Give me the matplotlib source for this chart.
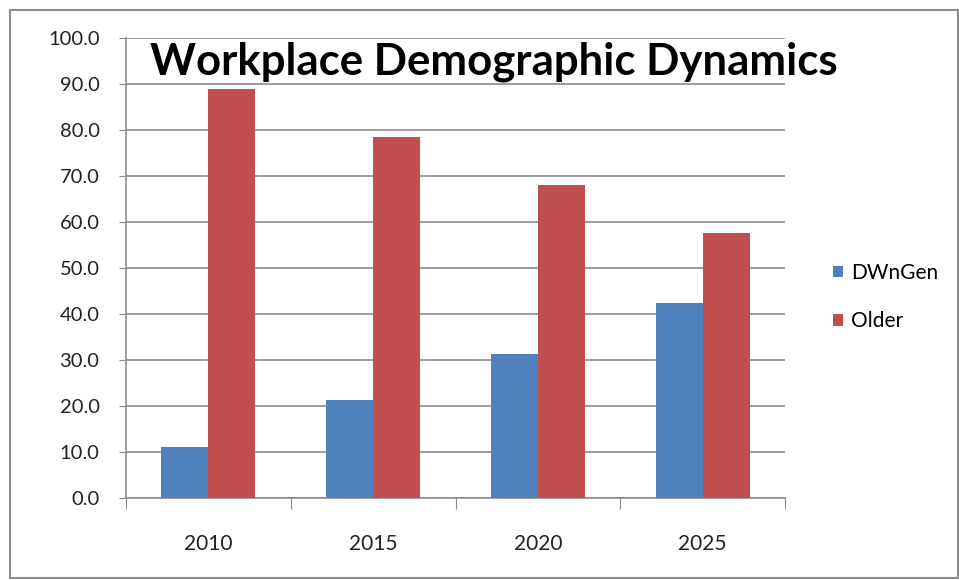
import numpy as np
import matplotlib.pyplot as plt
from matplotlib.patches import Rectangle

# data
years = ['2010', '2015', '2020', '2025']
dwngen = [11.0, 21.3, 31.4, 42.3]
older = [88.9, 78.5, 68.0, 57.6]

blue = '#4F81BD'
red = '#C0504D'
grid_col = '#8C8C8C'

plt.rcParams['font.family'] = ['Lato', 'DejaVu Sans']

fig = plt.figure(figsize=(9.59, 5.8), dpi=100)
ax = fig.add_axes([126 / 959, 1 - 498 / 580, (785 - 126) / 959, (498 - 38) / 580])

x = np.arange(len(years))
w = 0.285
ax.bar(x - w / 2, dwngen, width=w, color=blue, label='DWnGen', zorder=3)
ax.bar(x + w / 2, older, width=w, color=red, label='Older', zorder=3)

ax.set_ylim(0, 100)
ax.set_xlim(-0.5, len(years) - 0.5)
ax.set_yticks(np.arange(0, 101, 10))
ax.set_yticklabels(['%.1f' % v for v in np.arange(0, 101, 10)], fontsize=14.5, color='#222222')
ax.yaxis.grid(True, color=grid_col, linewidth=1.2, zorder=0)
ax.tick_params(axis='y', length=5, color=grid_col, pad=14)

# category separators as major ticks, labels on minor ticks
ax.set_xticks(np.arange(-0.5, len(years), 1.0))
ax.set_xticklabels([])
ax.set_xticks(x, minor=True)
ax.set_xticklabels(years, minor=True, fontsize=15, color='#222222')
ax.tick_params(axis='x', which='major', length=8, color=grid_col)
ax.tick_params(axis='x', which='minor', length=0, pad=26)

for side in ['top', 'right']:
    ax.spines[side].set_visible(False)
for side in ['left', 'bottom']:
    ax.spines[side].set_color(grid_col)
    ax.spines[side].set_linewidth(1.2)

fig.text(150 / 959, 1 - 62 / 580, 'Workplace Demographic Dynamics',
         fontsize=31.5, fontweight='bold', va='center', ha='left', color='black')

fig.legend(loc='center left', bbox_to_anchor=(814 / 959, 1 - 297 / 580),
           frameon=False, fontsize=15, handlelength=0.5, handleheight=0.5,
           handletextpad=0.4, labelspacing=1.35)

# outer chart border
fig.patches.append(Rectangle((10 / 959, 2 / 580), 948 / 959, 568 / 580,
                             transform=fig.transFigure, fill=False,
                             edgecolor='#8C8C8C', linewidth=1.5))

fig.savefig('out.png', dpi=100)
